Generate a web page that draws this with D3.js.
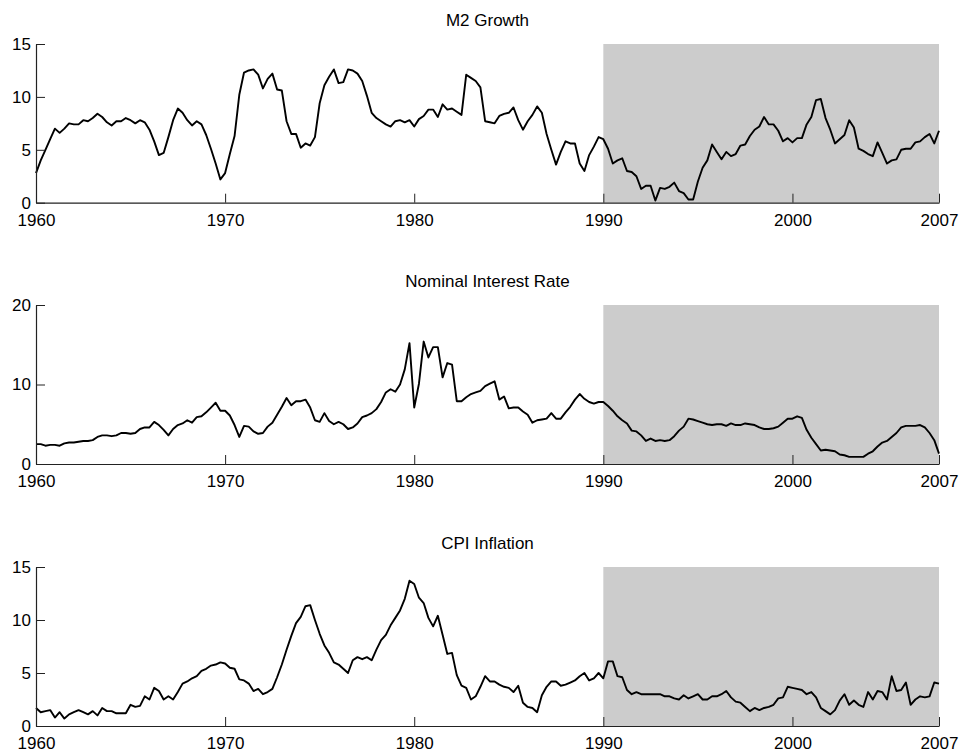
<!DOCTYPE html>
<html>
<head>
<meta charset="utf-8">
<script src="https://cdn.jsdelivr.net/npm/d3@7"></script>
<style>
  body { margin: 0; background: #fff; }
  text { font-family: "Liberation Sans", Arial, Helvetica, sans-serif; }
</style>
</head>
<body>
<div id="chart"></div>
<script>
// ----- quarterly series, 1960Q1 - 2007Q4 -----

const m2Growth = [
  2.8, 4.0, 5.0, 6.0, 7.0, 6.6, 7.0, 7.5, 7.4, 7.4, 7.8, 7.7, 8.0, 8.4, 8.1, 7.6,
  7.3, 7.7, 7.7, 8.0, 7.8, 7.5, 7.8, 7.6, 6.9, 5.8, 4.5, 4.7, 6.2, 7.8, 8.9, 8.5,
  7.8, 7.3, 7.7, 7.4, 6.4, 5.1, 3.7, 2.2, 2.8, 4.6, 6.3, 10.2, 12.3, 12.5, 12.6, 12.1,
  10.8, 11.7, 12.2, 10.7, 10.6, 7.7, 6.5, 6.5, 5.2, 5.6, 5.4, 6.2, 9.4, 11.1, 11.9, 12.6,
  11.3, 11.4, 12.6, 12.5, 12.2, 11.5, 10.1, 8.5, 8.0, 7.7, 7.4, 7.2, 7.7, 7.8, 7.6, 7.8,
  7.2, 7.9, 8.2, 8.8, 8.8, 8.1, 9.3, 8.8, 8.9, 8.6, 8.3, 12.1, 11.8, 11.5, 10.9, 7.7,
  7.6, 7.5, 8.2, 8.4, 8.5, 9.0, 7.8, 6.9, 7.7, 8.3, 9.1, 8.5, 6.5, 5.0, 3.6, 4.8,
  5.8, 5.6, 5.6, 3.7, 3.0, 4.5, 5.3, 6.2, 6.0, 5.1, 3.7, 4.0, 4.2, 3.0, 2.9, 2.5,
  1.3, 1.6, 1.6, 0.2, 1.4, 1.3, 1.5, 1.9, 1.1, 0.9, 0.3, 0.3, 2.0, 3.3, 4.0, 5.5,
  4.8, 4.1, 4.8, 4.4, 4.6, 5.4, 5.5, 6.3, 6.9, 7.2, 8.1, 7.4, 7.4, 6.8, 5.8, 6.1,
  5.7, 6.1, 6.1, 7.4, 8.1, 9.7, 9.8, 8.0, 6.9, 5.6, 6.0, 6.4, 7.8, 7.1, 5.1, 4.9,
  4.6, 4.4, 5.7, 4.7, 3.7, 4.0, 4.1, 5.0, 5.1, 5.1, 5.7, 5.8, 6.2, 6.5, 5.6, 6.8
];

const interestRate = [
  2.5, 2.5, 2.3, 2.4, 2.4, 2.3, 2.6, 2.7, 2.7, 2.8, 2.9, 2.9, 3.0, 3.4, 3.6, 3.6,
  3.5, 3.6, 3.9, 3.9, 3.8, 3.9, 4.4, 4.6, 4.6, 5.3, 4.9, 4.3, 3.6, 4.4, 4.9, 5.1,
  5.5, 5.2, 5.9, 6.0, 6.5, 7.1, 7.7, 6.7, 6.7, 6.1, 4.9, 3.4, 4.8, 4.7, 4.1, 3.8,
  3.9, 4.7, 5.2, 6.2, 7.2, 8.3, 7.4, 7.9, 7.9, 8.1, 7.1, 5.5, 5.3, 6.4, 5.4, 5.0,
  5.3, 5.0, 4.4, 4.6, 5.1, 5.9, 6.1, 6.4, 6.9, 7.8, 9.0, 9.4, 9.1, 10.0, 11.9, 15.2,
  7.1, 10.1, 15.4, 13.4, 14.7, 14.7, 10.9, 12.7, 12.5, 7.9, 7.9, 8.4, 8.8, 9.0, 9.2, 9.8,
  10.1, 10.4, 8.1, 8.5, 7.0, 7.1, 7.1, 6.6, 6.2, 5.2, 5.5, 5.6, 5.7, 6.4, 5.7, 5.7,
  6.5, 7.2, 8.1, 8.8, 8.2, 7.8, 7.6, 7.8, 7.8, 7.3, 6.7, 6.0, 5.5, 5.1, 4.2, 4.1,
  3.6, 2.9, 3.2, 2.9, 3.0, 2.9, 3.0, 3.5, 4.2, 4.7, 5.7, 5.6, 5.4, 5.2, 5.0, 4.9,
  5.0, 5.0, 4.8, 5.1, 4.9, 4.9, 5.1, 5.0, 4.9, 4.6, 4.4, 4.4, 4.5, 4.7, 5.2, 5.7,
  5.7, 6.0, 5.8, 4.3, 3.3, 2.5, 1.7, 1.8, 1.7, 1.6, 1.2, 1.1, 0.9, 0.9, 0.9, 0.9,
  1.3, 1.6, 2.2, 2.7, 2.9, 3.4, 3.9, 4.6, 4.8, 4.8, 4.8, 4.9, 4.6, 3.9, 3.0, 1.3
];

const cpiInflation = [
  1.7, 1.3, 1.4, 1.5, 0.8, 1.3, 0.7, 1.1, 1.3, 1.5, 1.3, 1.1, 1.4, 1.0, 1.7, 1.4,
  1.4, 1.2, 1.2, 1.2, 2.0, 1.8, 1.9, 2.8, 2.5, 3.6, 3.3, 2.5, 2.8, 2.5, 3.2, 4.0,
  4.2, 4.5, 4.7, 5.2, 5.4, 5.7, 5.8, 6.0, 5.9, 5.5, 5.4, 4.4, 4.3, 4.0, 3.3, 3.5,
  3.0, 3.2, 3.5, 4.6, 5.8, 7.2, 8.5, 9.7, 10.3, 11.3, 11.4, 10.0, 8.7, 7.6, 6.9, 6.0,
  5.8, 5.4, 5.0, 6.2, 6.5, 6.3, 6.5, 6.2, 7.2, 8.1, 8.6, 9.5, 10.2, 10.9, 12.0, 13.7,
  13.4, 12.1, 11.6, 10.2, 9.4, 10.4, 8.6, 6.8, 6.9, 4.8, 3.8, 3.6, 2.5, 2.8, 3.7, 4.7,
  4.2, 4.2, 3.9, 3.7, 3.6, 3.2, 3.8, 2.2, 1.8, 1.7, 1.3, 2.9, 3.7, 4.2, 4.2, 3.8,
  3.9, 4.1, 4.3, 4.7, 5.0, 4.3, 4.5, 5.0, 4.5, 6.1, 6.1, 4.7, 4.6, 3.4, 3.0, 3.2,
  3.0, 3.0, 3.0, 3.0, 3.0, 2.8, 2.8, 2.6, 2.5, 2.9, 2.6, 2.8, 3.0, 2.5, 2.5, 2.8,
  2.8, 3.0, 3.3, 2.7, 2.3, 2.2, 1.8, 1.4, 1.7, 1.5, 1.7, 1.8, 2.0, 2.6, 2.7, 3.7,
  3.6, 3.5, 3.4, 3.0, 3.2, 2.7, 1.7, 1.4, 1.1, 1.5, 2.4, 3.0, 2.0, 2.4, 2.0, 1.8,
  3.2, 2.5, 3.3, 3.2, 2.5, 4.7, 3.3, 3.4, 4.1, 2.0, 2.5, 2.8, 2.7, 2.8, 4.1, 4.0
];

const panelTitles = ["M2 Growth", "Nominal Interest Rate", "CPI Inflation"];
const yTicks = [[0, 5, 10, 15], [0, 10, 20], [0, 5, 10, 15]];
const xTickValues = [1960, 1970, 1980, 1990, 2000, 2007.75];
const xTickLabels = ["1960", "1970", "1980", "1990", "2000", "2007"];
const shadeStart = 1990;
const startYear = 1960;

const width = 965;
const height = 755;
const left = 36, right = 939;
const panels = [
  { top: 44, bottom: 202.7, data: m2Growth },
  { top: 305, bottom: 464, data: interestRate },
  { top: 567, bottom: 726, data: cpiInflation }
];

const svg = d3.select("#chart")
    .append("svg")
    .attr("width", width)
    .attr("height", height);

const x = d3.scaleLinear()
    .domain([startYear, xTickValues[xTickValues.length - 1]])
    .range([left, right]);

panels.forEach((p, k) => {
    const ticks = yTicks[k];
    const y = d3.scaleLinear()
        .domain([0, ticks[ticks.length - 1]])
        .range([p.bottom, p.top]);

    const series = p.data.map((v, i) => ({ t: startYear + i / 4, v: v }));
    const g = svg.append("g");

    // shaded sample period
    g.append("rect")
        .attr("x", x(shadeStart))
        .attr("y", p.top)
        .attr("width", x.range()[1] - x(shadeStart))
        .attr("height", p.bottom - p.top)
        .attr("fill", "#cccccc");

    const line = d3.line()
        .x(d => x(d.t))
        .y(d => y(d.v));

    g.append("path")
        .datum(series)
        .attr("fill", "none")
        .attr("stroke", "#000")
        .attr("stroke-width", 1.9)
        .attr("stroke-linejoin", "round")
        .attr("d", line);

    // axes, ticks pointing inward
    const xAxis = g.append("g")
        .attr("transform", `translate(0,${p.bottom})`)
        .call(d3.axisBottom(x)
            .tickValues(xTickValues)
            .tickFormat((d, i) => xTickLabels[i])
            .tickSizeInner(-9)
            .tickSizeOuter(0)
            .tickPadding(13));

    const yAxis = g.append("g")
        .attr("transform", `translate(${left},0)`)
        .call(d3.axisLeft(y)
            .tickValues(ticks)
            .tickSizeInner(-9)
            .tickSizeOuter(0)
            .tickPadding(5));

    [xAxis, yAxis].forEach(a => {
        a.select(".domain").attr("stroke", "#222").attr("stroke-width", 1.2);
        a.selectAll(".tick line").attr("stroke", "#222").attr("stroke-width", 1);
        a.selectAll(".tick text")
            .attr("fill", "#000")
            .style("font-size", "17px");
    });
    xAxis.selectAll(".tick text").attr("y", 11).attr("dy", "0.71em");
    yAxis.selectAll(".tick text").attr("x", -5);

    g.append("text")
        .attr("x", (left + right) / 2)
        .attr("y", p.top - 18)
        .attr("text-anchor", "middle")
        .style("font-size", "17px")
        .text(panelTitles[k]);
});
</script>
</body>
</html>
